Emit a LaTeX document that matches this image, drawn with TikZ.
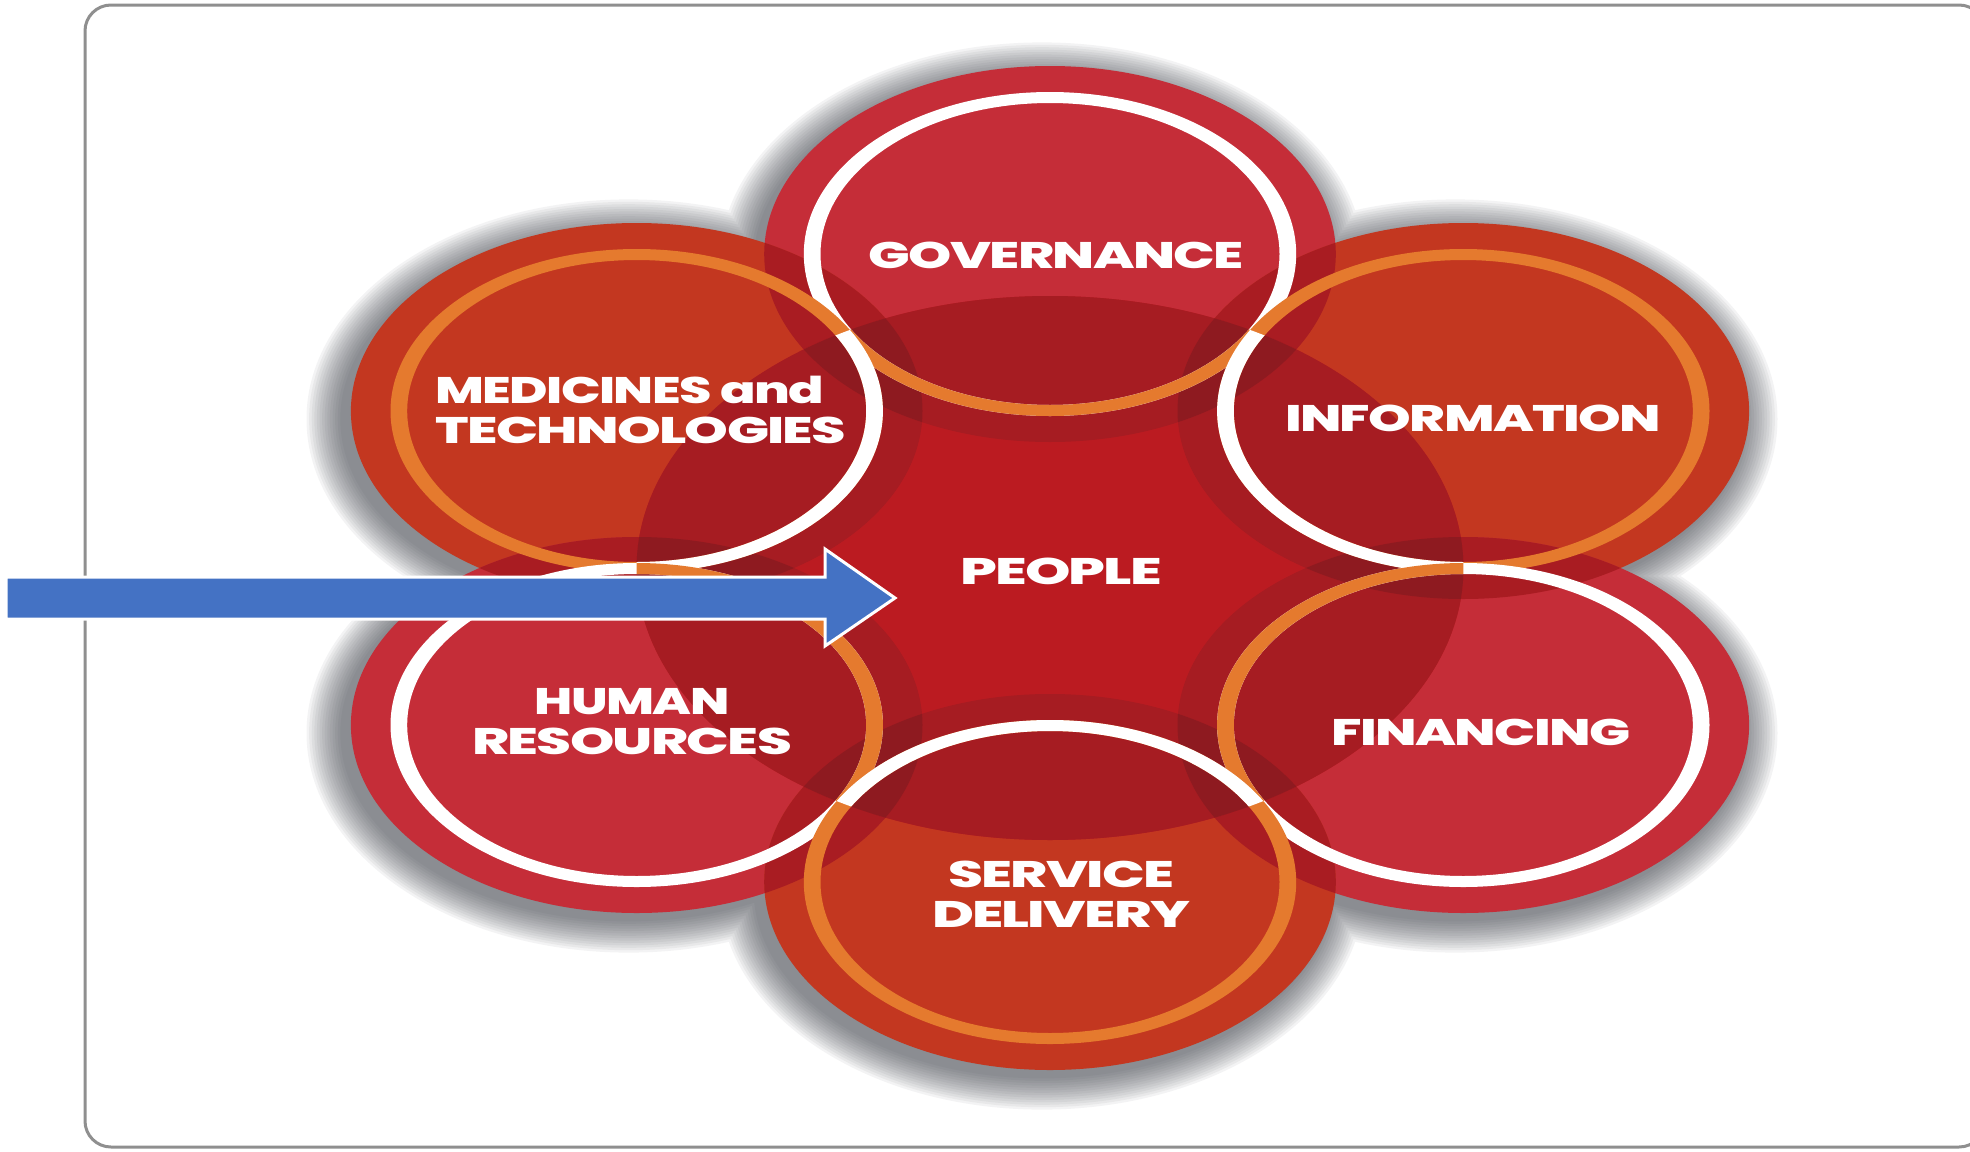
\documentclass[tikz,border=0pt]{standalone}
\usepackage{fontspec}
\setmainfont{Poppins}
\newfontfamily\labfont{Poppins}[UprightFont={* ExtraBold}, LetterSpace=-3]
\usepackage{graphicx}
\definecolor{pinkred}{HTML}{C52D38}
\definecolor{orred}{HTML}{C33720}
\definecolor{ringor}{HTML}{E57A2E}
\definecolor{peoplec}{HTML}{BB1B21}
\definecolor{darkone}{HTML}{A61C22}
\definecolor{darktwo}{HTML}{8E1A20}
\definecolor{lensout}{HTML}{A91C22}
\definecolor{arrowblue}{HTML}{4472C4}
\definecolor{framegray}{HTML}{8F8F8F}
\definecolor{shadowc}{HTML}{3C4048}
\newcommand\lbl[2]{\resizebox{#1pt}{\height}{#2}}
\begin{document}
\begin{tikzpicture}[x=1pt,y=-1pt,
  odisk/.style={x radius=285.8pt, y radius=188pt},
  rout/.style={x radius=246.2pt, y radius=162pt},
  rin/.style={x radius=229.5pt, y radius=151pt},
  pdisk/.style={x radius=413.4pt, y radius=272pt},
  lab/.style={text=white, inner sep=0pt, font=\fontsize{37}{40}\selectfont\labfont},
  blockarrow/.style={fill=arrowblue, draw=white, line width=3pt, line join=miter},
  frame/.style={draw=framegray, line width=3pt, rounded corners=26pt}]
\useasboundingbox (0,0) rectangle (1970,1151);
\fill[white] (0,0) rectangle (1970,1151);
\clip (0,0) rectangle (1970,1151);
% frame
\draw[frame] (85,5) rectangle (1985,1147);
% centres
\coordinate (gov) at (1050,254);
\coordinate (med) at (636.7,411);
\coordinate (info) at (1463.3,411);
\coordinate (hr) at (636.7,725);
\coordinate (fin) at (1463.3,725);
\coordinate (sd) at (1050,882);
\coordinate (people) at (1050,568);
% shadow
\foreach \k in {1,...,14}{
  \pgfmathsetmacro\ry{186+2.4*\k}
  \pgfmathsetmacro\rx{285.8+2.6*\k}
  \fill[shadowc, opacity=0.06]
    \foreach \c in {gov,med,info,hr,fin,sd}{ ([shift={(-8,8)}]\c) ellipse[x radius=\rx pt, y radius=\ry pt] };
}
% outer disks
\foreach \c/\col in {gov/pinkred, med/orred, info/orred, hr/pinkred, fin/pinkred, sd/orred}
  \fill[\col] (\c) ellipse[odisk];
% lenses between neighbours
\foreach \a/\b in {gov/med, med/hr, hr/sd, sd/fin, fin/info, info/gov}{
  \begin{scope}
    \clip (\a) ellipse[odisk];
    \fill[lensout] (\b) ellipse[odisk];
  \end{scope}
}
% people region
\fill[peoplec] (people) ellipse[pdisk];
\begin{scope}
  \clip (people) ellipse[pdisk];
  \foreach \c in {gov,med,info,hr,fin,sd}
    \fill[darkone] (\c) ellipse[odisk];
  \foreach \a/\b in {gov/med, med/hr, hr/sd, sd/fin, fin/info, info/gov}{
    \begin{scope}
      \clip (\a) ellipse[odisk];
      \fill[darktwo] (\b) ellipse[odisk];
    \end{scope}
  }
\end{scope}
% rings, outer colours
\foreach \c/\col in {gov/white, med/ringor, info/ringor, hr/white, fin/white, sd/ringor}
  \fill[\col, even odd rule] (\c) ellipse[rout] (\c) ellipse[rin];
% rings, colours inside the people region
\begin{scope}
  \clip (people) ellipse[pdisk];
  \foreach \c/\col in {gov/ringor, med/white, info/white, hr/ringor, fin/ringor, sd/white}
    \fill[\col, even odd rule] (\c) ellipse[rout] (\c) ellipse[rin];
\end{scope}
% labels
\node[lab] (tgov) at (1056,255) {\lbl{375}{GOVERNANCE}};
\node[lab, align=left, anchor=west] (tmed) at (435,410) {\lbl{389}{MEDICINES and}\\\lbl{411}{TECHNOLOGIES}};
\node[lab] (tinfo) at (1473,418) {\lbl{376}{INFORMATION}};
\node[lab] (tpeople) at (1061,571) {\lbl{202}{PEOPLE}};
\node[lab, align=center] (thr) at (632,722) {\lbl{195}{HUMAN}\\\lbl{320}{RESOURCES}};
\node[lab] (tfin) at (1481,732) {\lbl{299}{FINANCING}};
\node[lab, align=center] (tsd) at (1061,894) {\lbl{226}{SERVICE}\\\lbl{258}{DELIVERY}};
% block arrow
\coordinate (atail) at (6,598);
\coordinate (atip) at (895,598);
\draw[blockarrow] ([shift={(0,-21)}]atail) -- ([shift={(-70,-21)}]atip) -- ([shift={(-70,-49)}]atip) -- (atip)
  -- ([shift={(-70,48)}]atip) -- ([shift={(-70,21)}]atip) -- ([shift={(0,21)}]atail) -- cycle;
\end{tikzpicture}
\end{document}
